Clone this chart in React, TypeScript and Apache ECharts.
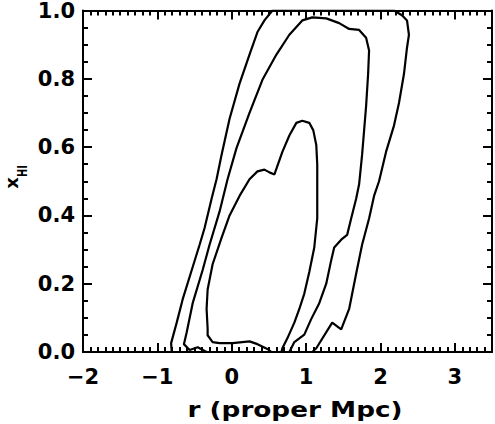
import React, { useEffect, useRef } from "react";
import * as echarts from "echarts";

// Tick values and labels
const xTickValues = [-2, -1, 0, 1, 2, 3];
const xTickLabels = ["−2", "−1", "0", "1", "2", "3"];
const yTickValues = [0, 0.2, 0.4, 0.6, 0.8, 1.0];
const yTickLabels = ["0.0", "0.2", "0.4", "0.6", "0.8", "1.0"];

const xTitle = "r (proper Mpc)";
const yTitleMain = "x";
const yTitleSub = "HI";

// Contours: [r, xHI]
const outerContour: number[][] = [
  [-0.807, 0], [-0.815, 0.026], [-0.74, 0.086], [-0.66, 0.154], [-0.525, 0.249],
  [-0.432, 0.314], [-0.365, 0.363], [-0.271, 0.449], [-0.204, 0.506], [-0.137, 0.577],
  [-0.029, 0.683], [0.105, 0.786], [0.239, 0.871], [0.346, 0.937], [0.44, 0.971],
  [0.547, 1.0], [2.182, 1.0], [2.289, 0.986], [2.357, 0.971], [2.383, 0.929],
  [2.357, 0.891], [2.316, 0.814], [2.249, 0.729], [2.182, 0.663], [2.075, 0.586],
  [1.981, 0.5], [1.914, 0.457], [1.847, 0.391], [1.753, 0.314], [1.673, 0.229],
  [1.579, 0.126], [1.472, 0.066], [1.351, 0.086], [1.137, 0.011], [1.083, 0],
  [-0.807, 0],
];

const middleContour: number[][] = [
  [-0.338, 0], [-0.458, 0.014], [-0.566, 0.006], [-0.643, 0.023], [-0.606, 0.057],
  [-0.525, 0.143], [-0.391, 0.24], [-0.298, 0.314], [-0.164, 0.411], [-0.056, 0.506],
  [0.064, 0.597], [0.239, 0.7], [0.413, 0.797], [0.601, 0.871], [0.775, 0.929],
  [0.949, 0.971], [1.083, 0.98], [1.271, 0.977], [1.445, 0.963], [1.579, 0.946],
  [1.713, 0.943], [1.807, 0.92], [1.847, 0.883], [1.834, 0.814], [1.807, 0.72],
  [1.753, 0.577], [1.713, 0.491], [1.673, 0.449], [1.606, 0.391], [1.552, 0.343],
  [1.472, 0.329], [1.378, 0.306], [1.338, 0.269], [1.271, 0.2], [1.177, 0.143],
  [1.07, 0.097], [0.976, 0.051], [0.842, 0.029], [0.775, 0], [-0.338, 0],
];

const innerContour: number[][] = [
  [-0.324, 0.069], [-0.338, 0.126], [-0.324, 0.183], [-0.257, 0.257], [-0.137, 0.334],
  [-0.029, 0.4], [0.105, 0.457], [0.239, 0.506], [0.346, 0.529], [0.44, 0.534],
  [0.507, 0.526], [0.574, 0.52], [0.681, 0.586], [0.775, 0.634], [0.869, 0.671],
  [0.949, 0.677], [1.043, 0.671], [1.097, 0.649], [1.137, 0.606], [1.15, 0.549],
  [1.15, 0.463], [1.15, 0.391], [1.11, 0.306], [1.043, 0.234], [0.976, 0.171],
  [0.909, 0.126], [0.842, 0.086], [0.748, 0.04], [0.681, 0.011], [0.668, 0],
  [0.534, 0], [0.48, 0.009], [0.346, 0.023], [0.239, 0.031], [0.011, 0.026],
  [-0.164, 0.026], [-0.257, 0.029], [-0.324, 0.049], [-0.324, 0.069],
];

const FONT = "DejaVu Sans";

function labelFor(values: number[], labels: string[]) {
  return (v: number) => {
    const i = values.findIndex((t) => Math.abs(t - v) < 1e-6);
    return i >= 0 ? labels[i] : "";
  };
}

export default function App() {
  const ref = useRef<HTMLDivElement>(null);
  useEffect(() => {
    if (!ref.current) return;
    const chart = echarts.init(ref.current, null, { renderer: "svg" });
    const axisLine = { show: true, onZero: false, lineStyle: { color: "#000", width: 2 } };
    const xBase = { type: "value", min: -2, max: 3.5, splitLine: { show: false }, axisLine };
    const yBase = { type: "value", min: 0, max: 1, interval: 0.2, splitLine: { show: false }, axisLine };
    const lineSeries = (data: number[][]) => ({
      type: "line",
      data,
      symbol: "none",
      xAxisIndex: 0,
      yAxisIndex: 0,
      lineStyle: { color: "#000", width: 2.2 },
      clip: true,
      silent: true,
    });
    chart.setOption({
      animation: false,
      backgroundColor: "#fff",
      grid: { left: 83, right: 2, top: 2, bottom: 72, containLabel: false },
      xAxis: [
        {
          ...xBase,
          position: "bottom",
          interval: 1,
          axisTick: { show: true, inside: true, length: 9, lineStyle: { color: "#000", width: 2 } },
          axisLabel: {
            show: true,
            margin: 14,
            color: "#000",
            fontFamily: FONT,
            fontWeight: "bold",
            fontSize: 21,
            formatter: labelFor(xTickValues, xTickLabels),
          },
        },
        {
          ...xBase,
          position: "bottom",
          interval: 0.1,
          axisTick: { show: true, inside: true, length: 5, lineStyle: { color: "#000", width: 2 } },
          axisLabel: { show: false },
        },
        {
          ...xBase,
          position: "top",
          interval: 1,
          axisTick: { show: true, inside: true, length: 9, lineStyle: { color: "#000", width: 2 } },
          axisLabel: { show: false },
        },
        {
          ...xBase,
          position: "top",
          interval: 0.1,
          axisTick: { show: true, inside: true, length: 5, lineStyle: { color: "#000", width: 2 } },
          axisLabel: { show: false },
        },
      ],
      yAxis: [
        {
          ...yBase,
          position: "left",
          axisTick: { show: true, inside: true, length: 9, lineStyle: { color: "#000", width: 2 } },
          minorTick: { show: true, splitNumber: 4, length: 5, lineStyle: { color: "#000", width: 2 } },
          axisLabel: {
            show: true,
            margin: 8,
            color: "#000",
            fontFamily: FONT,
            fontWeight: "bold",
            fontSize: 21,
            formatter: labelFor(yTickValues, yTickLabels),
          },
        },
        {
          ...yBase,
          position: "right",
          axisTick: { show: true, inside: true, length: 9, lineStyle: { color: "#000", width: 2 } },
          minorTick: { show: true, splitNumber: 4, length: 5, lineStyle: { color: "#000", width: 2 } },
          axisLabel: { show: false },
        },
      ],
      series: [lineSeries(outerContour), lineSeries(middleContour), lineSeries(innerContour)],
      graphic: [
        {
          type: "text",
          x: 295,
          y: 410,
          scaleX: 1.25,
          style: {
            text: xTitle,
            fontFamily: FONT,
            fontWeight: "bold",
            fontSize: 21,
            fill: "#000",
            textAlign: "center",
            textVerticalAlign: "middle",
          },
        },
        {
          type: "text",
          x: 11,
          y: 183,
          rotation: Math.PI / 2,
          style: {
            text: yTitleMain,
            fontFamily: FONT,
            fontWeight: "bold",
            fontSize: 18,
            lineHeight: 12,
            fill: "#000",
            textAlign: "center",
            textVerticalAlign: "middle",
          },
        },
        {
          type: "text",
          x: 22,
          y: 171,
          rotation: Math.PI / 2,
          scaleX: 0.7,
          style: {
            text: yTitleSub,
            fontFamily: FONT,
            fontWeight: "bold",
            fontSize: 14,
            lineHeight: 11,
            fill: "#000",
            textAlign: "center",
            textVerticalAlign: "middle",
          },
        },
      ],
    });
    return () => chart.dispose();
  }, []);
  return (
    <div
      ref={ref}
      style={{ position: "fixed", left: 0, top: 0, width: 495, height: 424, background: "#fff" }}
    />
  );
}
